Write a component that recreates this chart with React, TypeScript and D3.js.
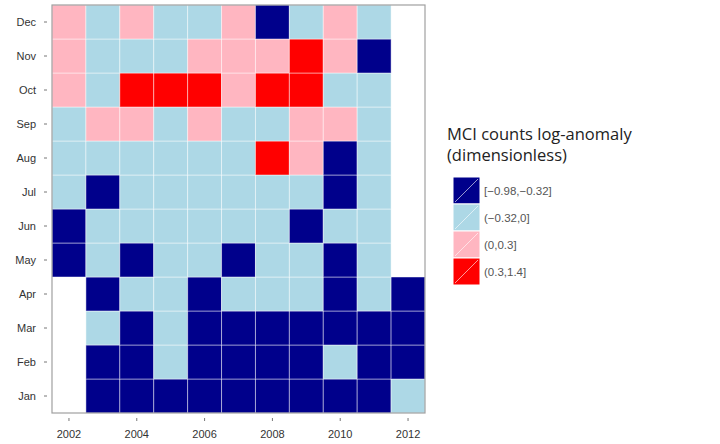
import * as d3 from "d3";

const years = [2002, 2003, 2004, 2005, 2006, 2007, 2008, 2009, 2010, 2011, 2012];
const months = ["Jan", "Feb", "Mar", "Apr", "May", "Jun", "Jul", "Aug", "Sep", "Oct", "Nov", "Dec"];
const yearTicks = [2002, 2004, 2006, 2008, 2010, 2012];

// class per cell: 0 navy, 1 light blue, 2 pink, 3 red, null missing. rows = months Jan..Dec, cols = years
const jan = [null, 0, 0, 0, 0, 0, 0, 0, 0, 0, 1];
const feb = [null, 0, 0, 1, 0, 0, 0, 0, 1, 0, 0];
const mar = [null, 1, 0, 1, 0, 0, 0, 0, 0, 0, 0];
const apr = [null, 0, 1, 1, 0, 1, 1, 1, 0, 1, 0];
const may = [0, 1, 0, 1, 1, 0, 1, 1, 0, 1, null];
const jun = [0, 1, 1, 1, 1, 1, 1, 0, 1, 1, null];
const jul = [1, 0, 1, 1, 1, 1, 1, 1, 0, 1, null];
const aug = [1, 1, 1, 1, 1, 1, 3, 2, 0, 1, null];
const sep = [1, 2, 2, 1, 2, 1, 1, 2, 2, 1, null];
const oct = [2, 1, 3, 3, 3, 2, 3, 3, 1, 1, null];
const nov = [2, 1, 1, 1, 2, 2, 2, 3, 2, 0, null];
const dec = [2, 1, 2, 1, 1, 2, 0, 1, 2, 1, null];

const classLabels = ["[\u22120.98,\u22120.32]", "(\u22120.32,0]", "(0,0.3]", "(0.3,1.4]"];
const classColors = ["#00008b", "#add8e6", "#ffb6c1", "#ff0000"];

const rows = [jan, feb, mar, apr, may, jun, jul, aug, sep, oct, nov, dec];

export default function App() {
    const width = 720;
    const height = 444;
    const left = 52, right = 425, top = 5, bottom = 413;

    const x = d3.scaleBand<number>().domain(years).range([left, right]);
    const y = d3.scaleBand<string>().domain(months.slice().reverse()).range([top, bottom]);
    const color = d3.scaleOrdinal<number, string>().domain([0, 1, 2, 3]).range(classColors);

    const cells: { year: number, month: string, v: number }[] = [];
    rows.forEach((r, i) => r.forEach((v, j) => {
        if (v != null) cells.push({year: years[j], month: months[i], v});
    }));

    const legendX = 453, legendY = 177, key = 27;

    return <div style={{position: "absolute", left: 0, top: 0}}>
        <svg width={width} height={height} viewBox={`0 0 ${width} ${height}`}
             style={{fontFamily: "'Liberation Sans', Arial, sans-serif", display: "block"}}>
            <rect x={0} y={0} width={width} height={height} fill="#fff"/>
            <rect x={left} y={top} width={right - left} height={bottom - top} fill="#fff"/>
            {cells.map((c, i) =>
                <rect key={i} x={x(c.year)} y={y(c.month)} width={x.bandwidth()} height={y.bandwidth()}
                      fill={color(c.v)} stroke="#ffffff" strokeOpacity={0.45} strokeWidth={1}/>)}
            <rect x={left} y={top} width={right - left} height={bottom - top} fill="none" stroke="#a0a0a0"
                  strokeWidth={1.2}/>
            {months.map(m => {
                const cy = (y(m) as number) + y.bandwidth() / 2;
                return <g key={m}>
                    <line x1={left - 8} x2={left - 5} y1={cy} y2={cy} stroke="#777"/>
                    <text x={left - 16} y={cy} dy="0.35em" textAnchor="end" fontSize={11} fill="#333">{m}</text>
                </g>
            })}
            {yearTicks.map(yr => {
                const cx = (x(yr) as number) + x.bandwidth() / 2;
                return <g key={yr}>
                    <line x1={cx} x2={cx} y1={bottom + 5} y2={bottom + 8} stroke="#777"/>
                    <text x={cx} y={bottom + 21} dy="0.35em" textAnchor="middle" fontSize={11} fill="#333">{yr}</text>
                </g>
            })}
            <text x={447} y={140} fontSize={16.5} fill="#222" fontFamily="'Open Sans', sans-serif">MCI counts log-anomaly</text>
            <text x={447} y={161} fontSize={16.5} fill="#222" fontFamily="'Open Sans', sans-serif">(dimensionless)</text>
            {classLabels.map((lab, i) => {
                const ky = legendY + i * key;
                return <g key={lab}>
                    <rect x={legendX} y={ky} width={key} height={key} fill={classColors[i]} stroke="#fff"
                          strokeWidth={1}/>
                    <line x1={legendX + 2} y1={ky + key - 2} x2={legendX + key - 2} y2={ky + 2} stroke="#fff"
                          strokeOpacity={0.6} strokeWidth={1}/>
                    <text x={legendX + 31} y={ky + key / 2} dy="0.35em" fontSize={11.5} fill="#555">{lab}</text>
                </g>
            })}
        </svg>
    </div>
}
